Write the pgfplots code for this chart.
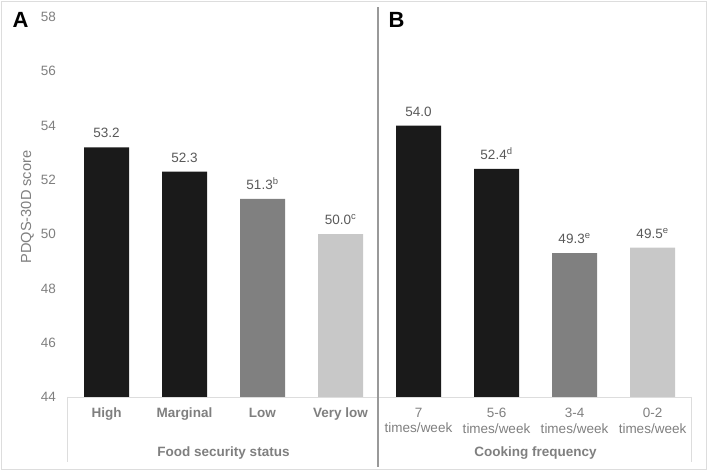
\documentclass[border=0pt]{standalone}
\usepackage{fontspec}
\setmainfont{Liberation Sans}
\usepackage{pgfplots}
\pgfplotsset{compat=1.18}
\definecolor{barblack}{HTML}{1A1A1A}
\definecolor{bardark}{HTML}{808080}
\definecolor{barlight}{HTML}{C8C8C8}
\definecolor{txtgray}{HTML}{595959}
\definecolor{tickgray}{HTML}{7F7F7F}
\definecolor{linegray}{HTML}{DDDDDD}
\definecolor{divgray}{HTML}{999999}
\newcommand{\lbl}{\fontsize{13.5}{15.5}\selectfont}
\begin{document}
\begin{tikzpicture}[x=1pt,y=1pt]
\useasboundingbox (0,0) rectangle (708,470);
\draw[linegray] (1,1) rectangle (706.5,469);
\begin{axis}[
  at={(67.5pt,73pt)}, anchor=south west,
  scale only axis, width=624pt, height=380pt,
  xmin=-0.5, xmax=7.5, ymin=44, ymax=58,
  ytick={44,46,...,58},
  xtick={0,...,7},
  xticklabels={\textbf{High},\textbf{Marginal},\textbf{Low},\textbf{Very low},
    {7\\times/week},{5-6\\times/week},{3-4\\times/week},{0-2\\times/week}},
  axis line style={draw=none},
  major tick length=0pt,
  tick style={draw=none},
  /pgf/number format/assume math mode=true,
  yticklabel style={font=\lbl, text=tickgray, anchor=east, inner sep=0pt, xshift=-11.5pt},
  xticklabel style={font=\lbl, text=tickgray, align=center, anchor=north, inner sep=0pt, yshift=-11pt},
  ylabel={PDQS-30D score},
  ylabel style={font=\fontsize{14.6}{16}\selectfont, text=tickgray, at={(axis description cs:0,0.5)}, anchor=center, rotate=0, yshift=40pt},
  every node near coord/.append style={font=\lbl, text=txtgray, anchor=south, inner sep=0pt, yshift=9pt},
  clip=false,
]
\addplot[ybar, bar width=45pt, bar shift=0pt, fill=barblack, draw=none,
  nodes near coords, point meta=explicit symbolic]
  coordinates {(0,53.2) [53.2] (1,52.3) [52.3] (4,54.0) [54.0] (5,52.4) [52.4\textsuperscript{d}]};
\addplot[ybar, bar width=45pt, bar shift=0pt, fill=bardark, draw=none,
  nodes near coords, point meta=explicit symbolic]
  coordinates {(2,51.3) [51.3\textsuperscript{b}] (6,49.3) [49.3\textsuperscript{e}]};
\addplot[ybar, bar width=45pt, bar shift=0pt, fill=barlight, draw=none,
  nodes near coords, point meta=explicit symbolic]
  coordinates {(3,50.0) [50.0\textsuperscript{c}] (7,49.5) [49.5\textsuperscript{e}]};
\end{axis}
\draw[linegray] (67.5,73) -- (691.5,73);
\draw[linegray] (67.5,73) -- (67.5,8);
\draw[linegray] (691.5,73) -- (691.5,8);
\draw[divgray, line width=1.5pt] (378,3) -- (378,463);
\node[font=\fontsize{22}{22}\selectfont\bfseries, text=black, anchor=base] at (20.5,442.5) {A};
\node[font=\fontsize{22}{22}\selectfont\bfseries, text=black, anchor=base] at (396.5,442.5) {B};
\node[font=\lbl\bfseries, text=tickgray, anchor=base] at (223.5,13.2) {Food security status};
\node[font=\lbl\bfseries, text=tickgray, anchor=base] at (535.5,13.2) {Cooking frequency};
\end{tikzpicture}
\end{document}
